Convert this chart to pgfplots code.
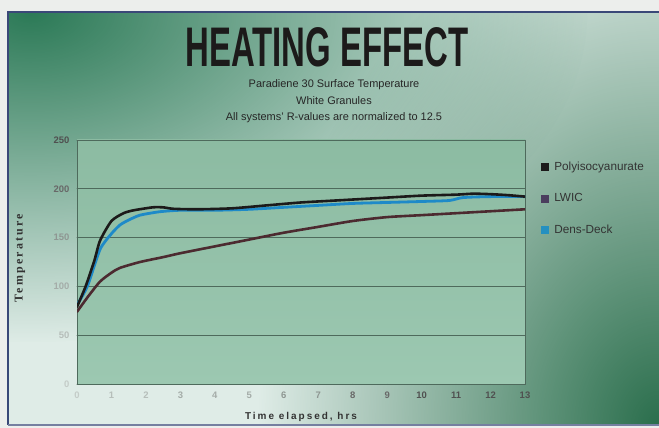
\documentclass[border=0pt]{standalone}
\usepackage{fontspec}
\setmainfont{Liberation Sans}
\newfontfamily\serifspaced[LetterSpace=18]{Liberation Serif}
\newfontfamily\sansspaced[LetterSpace=20]{Liberation Sans}
\usepackage{pgfplots}
\pgfplotsset{compat=1.18}
\usetikzlibrary{fadings}
\tikzfading[name=softblob, inner color=transparent!0, outer color=transparent!100]

\definecolor{outerbg}{HTML}{ECEEEC}
\definecolor{slidebg}{HTML}{DFECE7}
\definecolor{dkgreen}{HTML}{2C7A57}
\definecolor{dkgreen2}{HTML}{2A6E4C}
\definecolor{framec}{HTML}{3A4878}
\definecolor{plottop}{HTML}{8CBBA2}
\definecolor{plotbot}{HTML}{9CC8B1}
\definecolor{gridc}{HTML}{4E6A5C}
\definecolor{polycol}{HTML}{1C1A1A}
\definecolor{lwiccol}{HTML}{4C2A30}
\definecolor{lwicleg}{HTML}{4B3D5E}
\definecolor{denscol}{HTML}{1E8AC8}
\definecolor{densleg}{HTML}{2590C0}
\definecolor{tA}{HTML}{505050}
\definecolor{tB}{HTML}{686868}
\definecolor{tC}{HTML}{8E9692}
\definecolor{tD}{HTML}{A4ACA8}
\definecolor{tE}{HTML}{B6BEBA}
\definecolor{tF}{HTML}{C4CCC8}

\pgfplotstableread{
t T
0 79
0.25 100
0.5 126
0.67 147
1 167
1.35 175
1.65 178
2.2 181
2.5 181
2.8 179.5
3.5 179
4.5 180
5.5 183
6.5 186
7.5 188
9 191
10 193
11 194
11.5 195
12 194.5
12.5 193.5
13 192
}\polyiso

\pgfplotstableread{
t T
0 74
0.33 90
0.67 105
1 114
1.25 119
1.83 125
2.5 130
3 134
4 141
5 148
6 155
7 161
8 167
9 171
10 173
11 175
12 177
13 179
}\lwic

\pgfplotstableread{
t T
0 81
0.3 100
0.67 138
1 154
1.25 163
1.5 168
1.83 173
2.4 176.5
3 178
4 178
5 179
6 181
7 183
8 185
9 186
10 187
10.8 188
11.2 191
12 192
13 192
}\densdeck

\begin{document}
\begin{tikzpicture}
\useasboundingbox (0,0) rectangle (659bp,428bp);
\fill[outerbg] (0,0) rectangle (659bp,428bp);
\begin{scope}
\clip (8bp,3bp) rectangle (659bp,416bp);
\fill[slidebg] (0,0) rectangle (659bp,428bp);
\fill[dkgreen, path fading=softblob, fit fading] (30bp,416bp) ellipse [x radius=560bp, y radius=330bp];
\fill[dkgreen2, path fading=softblob, fit fading] (659bp,0bp) ellipse [x radius=400bp, y radius=520bp];
\end{scope}
\draw[framec, line width=2bp] (8bp,3bp) -- (8bp,416bp) -- (659bp,416bp);
\draw[framec!70, line width=1.5bp] (8bp,3bp) -- (659bp,3bp);

\node[polycol] at (327bp,381bp)
  {\scalebox{0.59}[1]{\fontsize{56}{60}\selectfont\bfseries HEATING EFFECT}};
\node[black!85, font=\fontsize{11}{13}\selectfont] at (334bp,343bp) {Paradiene 30 Surface Temperature};
\node[black!85, font=\fontsize{11}{13}\selectfont] at (334bp,327bp) {White Granules};
\node[black!85, font=\fontsize{11}{13}\selectfont] at (334bp,310bp) {All systems' R-values are normalized to 12.5};

\begin{axis}[
  at={(77bp,44bp)}, anchor=south west,
  width=448bp, height=244bp, scale only axis,
  xmin=0, xmax=13, ymin=0, ymax=250,
  xtick={0,...,13}, ytick={0,50,...,250},
  xticklabels={\textcolor{tF}{0},\textcolor{tE}{1},\textcolor{tE}{2},\textcolor{tD}{3},\textcolor{tD}{4},\textcolor{tD}{5},\textcolor{tC}{6},\textcolor{tC}{7},\textcolor{tB}{8},\textcolor{tB}{9},\textcolor{tA}{10},\textcolor{tA}{11},\textcolor{tA}{12},\textcolor{tA}{13}},
  yticklabels={\textcolor{tF}{0},\textcolor{tE}{50},\textcolor{tD}{100},\textcolor{tC}{150},\textcolor{tB}{200},\textcolor{tA}{250}},
  major tick length=0pt,
  ymajorgrids,
  major grid style={draw=gridc, line width=0.7bp},
  axis line style={draw=gridc, line width=0.8bp},
  axis background/.style={top color=plottop, bottom color=plotbot},
  tick label style={font=\fontsize{9.5}{11}\selectfont\bfseries},
  yticklabel style={xshift=-4bp},
  xticklabel style={yshift=-4bp},
  xlabel={\sansspaced\bfseries Time elapsed, hrs},
  xlabel style={at={(axis description cs:0.5,-0.135)}, anchor=center, font=\fontsize{10}{12}\selectfont, text=black!80},
  ylabel={\serifspaced\bfseries Temperature},
  ylabel style={at={(axis description cs:-0.127,0.516)}, anchor=center, font=\fontsize{12}{14}\selectfont, text=black!80},
  legend image code/.code={\fill[#1] (0bp,-4bp) rectangle (8bp,4bp);},
  legend style={at={(1.036,0.92)}, anchor=north west, draw=none, fill=none,
    font=\fontsize{11.8}{14}\selectfont, text=black!80, row sep=18bp, inner sep=0pt,
    nodes={inner xsep=5bp}},
  legend cell align=left,
  line join=round, line cap=round,
]
\addlegendimage{fill=polycol, draw=none}
\addlegendentry{Polyisocyanurate}
\addlegendimage{fill=lwicleg, draw=none}
\addlegendentry{LWIC}
\addlegendimage{fill=densleg, draw=none}
\addlegendentry{Dens-Deck}
\addplot[lwiccol, line width=2.6bp, smooth, tension=0.4, forget plot] table[x=t, y=T] {\lwic};
\addplot[denscol, line width=2.8bp, smooth, tension=0.4, forget plot] table[x=t, y=T] {\densdeck};
\addplot[polycol, line width=2.6bp, smooth, tension=0.4, forget plot] table[x=t, y=T] {\polyiso};
\end{axis}
\end{tikzpicture}
\end{document}
